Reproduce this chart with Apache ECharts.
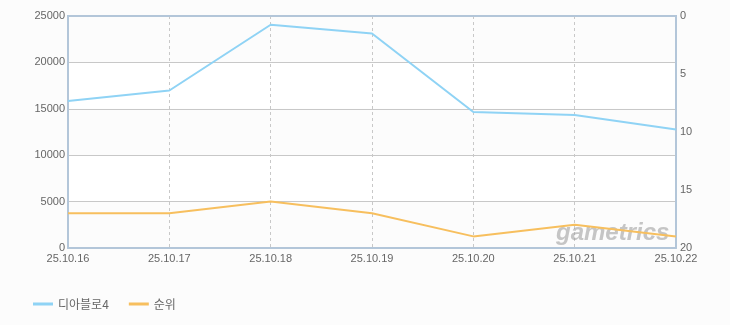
<!DOCTYPE html>
<html><head><meta charset="utf-8">
<script src="https://cdn.jsdelivr.net/npm/echarts@6/dist/echarts.min.js"></script>
<style>html,body{margin:0;padding:0;background:#fcfcfc}#c{width:730px;height:325px}</style>
</head><body><div id="c"></div>
<script>
const categories = ['25.10.16','25.10.17','25.10.18','25.10.19','25.10.20','25.10.21','25.10.22'];
const users = [15840, 16970, 24060, 23110, 14650, 14330, 12770];
const rank = [17, 17, 16, 17, 19, 18, 19];
const leftTicks = [0, 25000, 5000];
const rightTicks = [0, 20, 5];
const seriesNames = ['디아블로4', '순위'];

const chart = echarts.init(document.getElementById('c'));
const axisLineColor = '#b3c6d9';
const font = 'Liberation Sans';
chart.setOption({
  backgroundColor: '#fcfcfc',
  animation: false,
  textStyle: {fontFamily: font},
  grid: {left: 68, right: 54, top: 16, bottom: 77, containLabel: false},
  legend: {
    left: 28, top: 293, itemWidth: 20, itemHeight: 3, itemGap: 20,
    icon: 'rect',
    textStyle: {color: '#666', fontSize: 12, fontFamily: 'Noto Sans CJK KR'},
    data: seriesNames
  },
  graphic: {
    elements: [{
      type: 'text', x: 556, y: 221, z: 1,
      style: {text: 'gametrics', fontSize: 24, fontStyle: 'italic', fontWeight: 'bold', fill: 'rgba(160,160,160,0.6)', fontFamily: font}
    }]
  },
  xAxis: {
    type: 'category', data: categories, boundaryGap: false,
    axisLine: {lineStyle: {color: axisLineColor, width: 2}},
    axisTick: {show: false},
    axisLabel: {color: '#666', fontSize: 11, margin: 5, showMaxLabel: true, showMinLabel: true, interval: 0},
    splitLine: {show: true, lineStyle: {color: '#c8c8c8', type: [3, 3], width: 1}}
  },
  yAxis: [{
    type: 'value', min: leftTicks[0], max: leftTicks[1], interval: leftTicks[2],
    axisLine: {show: true, lineStyle: {color: axisLineColor, width: 2}},
    axisTick: {show: false},
    axisLabel: {color: '#666', fontSize: 11, margin: 3, formatter: v => String(v)},
    splitLine: {lineStyle: {color: '#c8c8c8', width: 1}},
    splitArea: {show: true, areaStyle: {color: ['#fcfcfc', '#ffffff']}}
  }, {
    type: 'value', min: rightTicks[0], max: rightTicks[1], interval: rightTicks[2], inverse: true,
    position: 'right',
    axisLine: {show: true, lineStyle: {color: axisLineColor, width: 2}},
    axisTick: {show: false},
    axisLabel: {color: '#666', fontSize: 11, margin: 4},
    splitLine: {show: false}
  }],
  series: [{
    name: seriesNames[0], type: 'line', data: users, yAxisIndex: 0, z: 3,
    symbol: 'none', lineStyle: {color: '#8fd3f5', width: 2}, itemStyle: {color: '#8fd3f5'}
  }, {
    name: seriesNames[1], type: 'line', data: rank, yAxisIndex: 1, z: 3,
    symbol: 'none', lineStyle: {color: '#f7bf5e', width: 2}, itemStyle: {color: '#f7bf5e'}
  }, {
    type: 'line', data: [], markLine: {silent: true, symbol: 'none', label: {show: false},
      lineStyle: {color: axisLineColor, width: 2, type: 'solid'},
      data: [[{x: 67, y: 16}, {x: 677, y: 16}]]}
  }]
});
</script></body></html>
